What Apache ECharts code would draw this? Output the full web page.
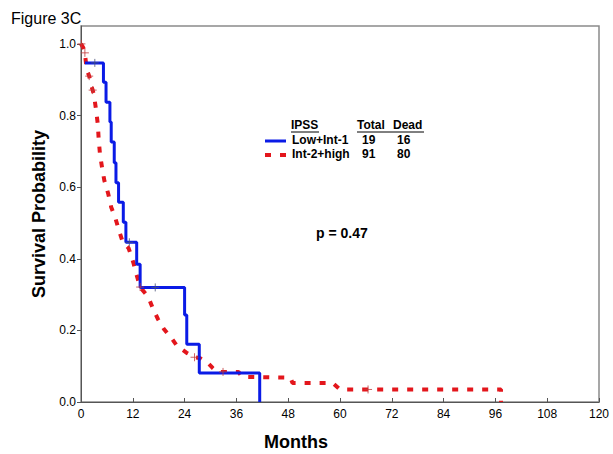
<!DOCTYPE html>
<html>
<head>
<meta charset="utf-8">
<script src="https://cdn.jsdelivr.net/npm/echarts@6/dist/echarts.min.js"></script>
<style>html,body{margin:0;padding:0;background:#fff}#c{width:613px;height:454px}</style>
</head>
<body>
<div id="c"></div>
<script>
// ---- data ----
const xTicks = [0, 12, 24, 36, 48, 60, 72, 84, 96, 108, 120];
const yTicks = [0, 0.2, 0.4, 0.6, 0.8, 1.0];

// Low+Int-1 (blue) Kaplan-Meier steps
const lowTimes = [0.9, 5.2, 5.8, 6.7, 7.0, 7.7, 8.1, 8.7, 9.8, 10.4, 12.9, 13.7, 24.0, 24.5, 27.4, 41.4];
const lowSurv  = [0.947, 0.893, 0.837, 0.782, 0.726, 0.668, 0.612, 0.558, 0.502, 0.446, 0.385, 0.320, 0.243, 0.161, 0.081, 0];
const lowCensT = [3.2, 11.2, 17.2];
const lowCensS = [0.947, 0.446, 0.320];

// Int-2+high (red) curve points
const highTimes = [0, 0.5, 0.9, 1.3, 1.9, 2.3, 2.7, 3.0, 3.5, 3.9, 4.1, 4.4, 4.9, 5.4, 6.3, 7.0, 8.0, 8.8, 9.7, 11.0, 11.6, 12.2, 13.0, 13.7, 15.6, 16.6, 17.8, 19.2, 20.8, 22.3, 24.5, 26.3, 27.5, 29.3, 30.5, 31.5, 36.5, 37.3, 48.5, 49.0, 58.3, 60.0, 97.3, 97.3];
const highSurv  = [1.0, 0.99, 0.975, 0.93, 0.91, 0.887, 0.871, 0.857, 0.815, 0.775, 0.733, 0.692, 0.653, 0.619, 0.582, 0.544, 0.512, 0.479, 0.446, 0.43, 0.41, 0.386, 0.35, 0.321, 0.293, 0.263, 0.232, 0.204, 0.181, 0.156, 0.137, 0.125, 0.123, 0.110, 0.095, 0.084, 0.084, 0.070, 0.068, 0.053, 0.053, 0.035, 0.035, 0];
const highCensT = [0.1, 0.9, 1.9, 2.7, 13.7, 26.3, 32.9, 66.5];
const highCensS = [1.0, 0.975, 0.91, 0.871, 0.321, 0.125, 0.084, 0.035];

// legend table
const legendHeader = ['IPSS', 'Total', 'Dead'];
const legendNames  = ['Low+Int-1', 'Int-2+high'];
const legendTotals = ['19', '91'];
const legendDeads  = ['16', '80'];
const pText = 'p = 0.47';

const BLUE = '#0a1be6';
const RED = '#e3161c';
const FONT = '"Liberation Sans", Arial, sans-serif';

const zip = (a, b) => a.map((v, i) => [v, b[i]]);
const lowData = [[lowTimes[0], lowSurv[0]]].concat(zip(lowTimes, lowSurv));
const plus = 'path://M0,5L10,5M5,0L5,10';

const chart = echarts.init(document.getElementById('c'), null, {renderer: 'svg'});

const colX = [292, 362, 397];
const rowY = [141, 155];
const g = [];
legendHeader.forEach((h, i) => {
  const x = [291, 357, 393][i];
  g.push({type: 'text', left: x, top: 119, style: {text: h, font: 'bold 12px ' + FONT, fill: '#000'}});
});
g.push({type: 'line', shape: {x1: 291, y1: 132, x2: 319, y2: 132}, style: {stroke: '#000', lineWidth: 1}});
g.push({type: 'line', shape: {x1: 357, y1: 132, x2: 424, y2: 132}, style: {stroke: '#000', lineWidth: 1}});
legendNames.forEach((n, i) => {
  g.push({type: 'text', left: colX[0], top: rowY[i] - 7, style: {text: n, font: 'bold 12px ' + FONT, fill: '#000'}});
  g.push({type: 'text', left: colX[1], top: rowY[i] - 7, style: {text: legendTotals[i], font: 'bold 12px ' + FONT, fill: '#000'}});
  g.push({type: 'text', left: colX[2], top: rowY[i] - 7, style: {text: legendDeads[i], font: 'bold 12px ' + FONT, fill: '#000'}});
});
g.push({type: 'line', shape: {x1: 265, y1: rowY[0], x2: 286, y2: rowY[0]}, style: {stroke: BLUE, lineWidth: 3}});
g.push({type: 'line', shape: {x1: 265, y1: rowY[1], x2: 287, y2: rowY[1]}, style: {stroke: RED, lineWidth: 4, lineDash: [6, 9]}});
g.push({type: 'text', left: 316, top: 226, style: {text: pText, font: 'bold 14px ' + FONT, fill: '#000'}});

chart.setOption({
  animation: false,
  backgroundColor: '#fff',
  title: [
    {text: 'Figure 3C', left: 6, top: 5, textStyle: {fontFamily: FONT, fontSize: 16, fontWeight: 'normal', color: '#000'}},
    {text: 'Months', left: 259, top: 428, textStyle: {fontFamily: FONT, fontSize: 18, fontWeight: 'bold', color: '#000'}}
  ],
  grid: {left: 81, right: 14, top: 26, bottom: 52, show: true, borderColor: '#8a8a8a', borderWidth: 1.5, backgroundColor: 'transparent'},
  xAxis: {
    type: 'value', min: 0, max: 120, interval: 12,
    axisLine: {lineStyle: {color: '#555', width: 1}},
    axisTick: {show: true, inside: true, length: 4, lineStyle: {color: '#555'}},
    axisLabel: {fontFamily: FONT, fontSize: 12, color: '#000', margin: 6, customValues: xTicks},
    splitLine: {show: false}
  },
  yAxis: {
    type: 'value', min: 0, max: 1.05,
    name: 'Survival Probability', nameLocation: 'middle', nameGap: 32,
    nameTextStyle: {fontFamily: FONT, fontSize: 18, fontWeight: 'bold', color: '#000'},
    axisLine: {show: true, lineStyle: {color: '#555', width: 1}},
    axisTick: {show: true, inside: false, length: 4, lineStyle: {color: '#555'}, customValues: yTicks},
    axisLabel: {fontFamily: FONT, fontSize: 12, color: '#000', margin: 5, customValues: yTicks, formatter: v => v.toFixed(1)},
    splitLine: {show: false}
  },
  graphic: g,
  series: [
    {type: 'line', data: zip(highTimes, highSurv), showSymbol: false, symbol: 'none',
     lineStyle: {color: RED, width: 4, type: [6, 9], cap: 'butt'}, z: 2},
    {type: 'line', data: lowData, step: 'end', showSymbol: false, symbol: 'none',
     lineStyle: {color: BLUE, width: 3}, z: 3},
    {type: 'scatter', data: zip(highCensT, highCensS), symbol: plus, symbolSize: 8,
     itemStyle: {color: 'transparent', borderColor: '#c0393b', borderWidth: 1}, z: 4},
    {type: 'scatter', data: zip(lowCensT, lowCensS), symbol: plus, symbolSize: 8,
     itemStyle: {color: 'transparent', borderColor: '#4a5278', borderWidth: 1}, z: 4}
  ]
});
</script>
</body>
</html>
